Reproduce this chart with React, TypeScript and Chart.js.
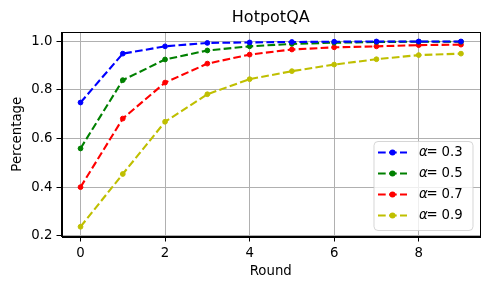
import React, { useEffect, useRef } from 'react';
import { Chart, registerables } from 'chart.js';

Chart.register(...registerables);

const rounds = [0, 1, 2, 3, 4, 5, 6, 7, 8, 9];
const alphaLabels = ['0.3', '0.5', '0.7', '0.9'];
const seriesA03 = [0.748, 0.949, 0.979, 0.993, 0.995, 0.997, 0.998, 0.999, 0.999, 0.999];
const seriesA05 = [0.559, 0.84, 0.925, 0.962, 0.979, 0.989, 0.994, 0.997, 0.998, 0.998];
const seriesA07 = [0.4, 0.682, 0.83, 0.908, 0.945, 0.966, 0.975, 0.979, 0.984, 0.986];
const seriesA09 = [0.237, 0.454, 0.669, 0.782, 0.844, 0.877, 0.904, 0.926, 0.943, 0.949];
const seriesColors = ['#0000ff', '#008000', '#ff0000', '#bfbf00'];
const xTicks = [0, 2, 4, 6, 8];
const yTicks = [0.2, 0.4, 0.6, 0.8, 1.0];
const chartTitle = 'HotpotQA';
const xTitle = 'Round';
const yTitle = 'Percentage';

const FONT = "'DejaVu Sans'";
const DASH = [7.7, 3.3];

const framePlugin = {
  id: 'frameAndLegend',
  afterDatasetsDraw(chart: any) {
    const { ctx, chartArea: a } = chart;
    ctx.save();
    // frame
    ctx.strokeStyle = '#000';
    ctx.lineWidth = 1;
    ctx.setLineDash([]);
    ctx.strokeRect(Math.round(a.left) + 0.5, Math.round(a.top) + 0.5, Math.round(a.right - a.left) - 1, Math.round(a.bottom - a.top));

    // legend
    const w = 99;
    const h = 89;
    const x0 = a.right - 7 - w;
    const y0 = a.bottom - 6 - h;
    const r = 4;
    ctx.beginPath();
    ctx.moveTo(x0 + r, y0);
    ctx.lineTo(x0 + w - r, y0);
    ctx.arcTo(x0 + w, y0, x0 + w, y0 + r, r);
    ctx.lineTo(x0 + w, y0 + h - r);
    ctx.arcTo(x0 + w, y0 + h, x0 + w - r, y0 + h, r);
    ctx.lineTo(x0 + r, y0 + h);
    ctx.arcTo(x0, y0 + h, x0, y0 + h - r, r);
    ctx.lineTo(x0, y0 + r);
    ctx.arcTo(x0, y0, x0 + r, y0, r);
    ctx.closePath();
    ctx.fillStyle = 'rgba(255,255,255,0.8)';
    ctx.fill();
    ctx.strokeStyle = 'rgba(204,204,204,0.8)';
    ctx.lineWidth = 1;
    ctx.stroke();

    chart.data.datasets.forEach((ds: any, i: number) => {
      const cy = y0 + 11 + i * 21;
      const lx0 = x0 + 4;
      const lx1 = x0 + 33;
      ctx.strokeStyle = ds.borderColor;
      ctx.lineWidth = 2.1;
      ctx.setLineDash(DASH);
      ctx.beginPath();
      ctx.moveTo(lx0, cy);
      ctx.lineTo(lx1, cy);
      ctx.stroke();
      ctx.setLineDash([]);
      ctx.fillStyle = ds.borderColor;
      ctx.beginPath();
      ctx.arc((lx0 + lx1) / 2, cy, 3, 0, Math.PI * 2);
      ctx.fill();

      ctx.fillStyle = '#000';
      ctx.textBaseline = 'middle';
      ctx.textAlign = 'left';
      ctx.font = `italic 13.3px ${FONT}`;
      ctx.fillText('α', x0 + 45, cy);
      ctx.font = `13.3px ${FONT}`;
      ctx.fillText('=', x0 + 52.5, cy);
      ctx.fillText(alphaLabels[i], x0 + 67.5, cy);
    });
    ctx.restore();
  },
};

export default function App() {
  const canvasRef = useRef<HTMLCanvasElement | null>(null);

  useEffect(() => {
    document.body.style.margin = '0';
    const canvas = canvasRef.current;
    if (!canvas) return;
    const allSeries = [seriesA03, seriesA05, seriesA07, seriesA09];
    const chart = new Chart(canvas, {
      type: 'line',
      data: {
        datasets: allSeries.map((s, i) => ({
          label: `α = ${alphaLabels[i]}`,
          data: rounds.map((r, j) => ({ x: r, y: s[j] })),
          borderColor: seriesColors[i],
          backgroundColor: seriesColors[i],
          pointBackgroundColor: seriesColors[i],
          pointBorderColor: seriesColors[i],
          borderWidth: 2.1,
          borderDash: DASH,
          pointRadius: 2.4,
          pointBorderWidth: 1,
          tension: 0,
          fill: false,
        })),
      },
      options: {
        responsive: false,
        animation: false,
        devicePixelRatio: 1,
        layout: { padding: { left: 0, right: 10, top: 0, bottom: 0 } },
        plugins: {
          legend: { display: false },
          tooltip: { enabled: false },
          title: {
            display: true,
            text: chartTitle,
            color: '#000',
            fullSize: false,
            font: { family: FONT, size: 16, weight: 'normal' },
            padding: { top: 8.4, bottom: 4.4 },
          },
        },
        scales: {
          x: {
            type: 'linear',
            min: -0.45,
            max: 9.45,
            afterBuildTicks: (scale: any) => {
              scale.ticks = xTicks.map((v) => ({ value: v }));
            },
            afterFit: (scale: any) => {
              scale.height = 53.5;
            },
            grid: { color: '#b0b0b0', lineWidth: 1, tickColor: '#000', tickLength: 5, drawTicks: true },
            border: { display: true, color: '#000', width: 1 },
            ticks: { color: '#000', font: { family: FONT, size: 13.3 }, padding: 4, maxRotation: 0 },
            title: {
              display: true,
              text: xTitle,
              color: '#000',
              font: { family: FONT, size: 13.3 },
              padding: { top: 0, bottom: 10.5 },
            },
          },
          y: {
            type: 'linear',
            min: 0.197,
            max: 1.038,
            afterBuildTicks: (scale: any) => {
              scale.ticks = yTicks.map((v) => ({ value: v }));
            },
            afterFit: (scale: any) => {
              scale.width = 61.5;
            },
            grid: { color: '#b0b0b0', lineWidth: 1, tickColor: '#000', tickLength: 5, drawTicks: true },
            border: { display: true, color: '#000', width: 1 },
            ticks: {
              color: '#000',
              font: { family: FONT, size: 13.3 },
              padding: 4,
              callback: (v: any) => Number(v).toFixed(1),
            },
            title: {
              display: true,
              text: yTitle,
              color: '#000',
              font: { family: FONT, size: 13.3 },
              padding: { top: 9.2, bottom: 0 },
            },
          },
        },
      },
      plugins: [framePlugin],
    });
    return () => chart.destroy();
  }, []);

  return (
    <div style={{ position: 'absolute', left: 0, top: 0, width: 490, height: 290 }}>
      <canvas ref={canvasRef} width={490} height={290} style={{ width: 490, height: 290 }} />
    </div>
  );
}
